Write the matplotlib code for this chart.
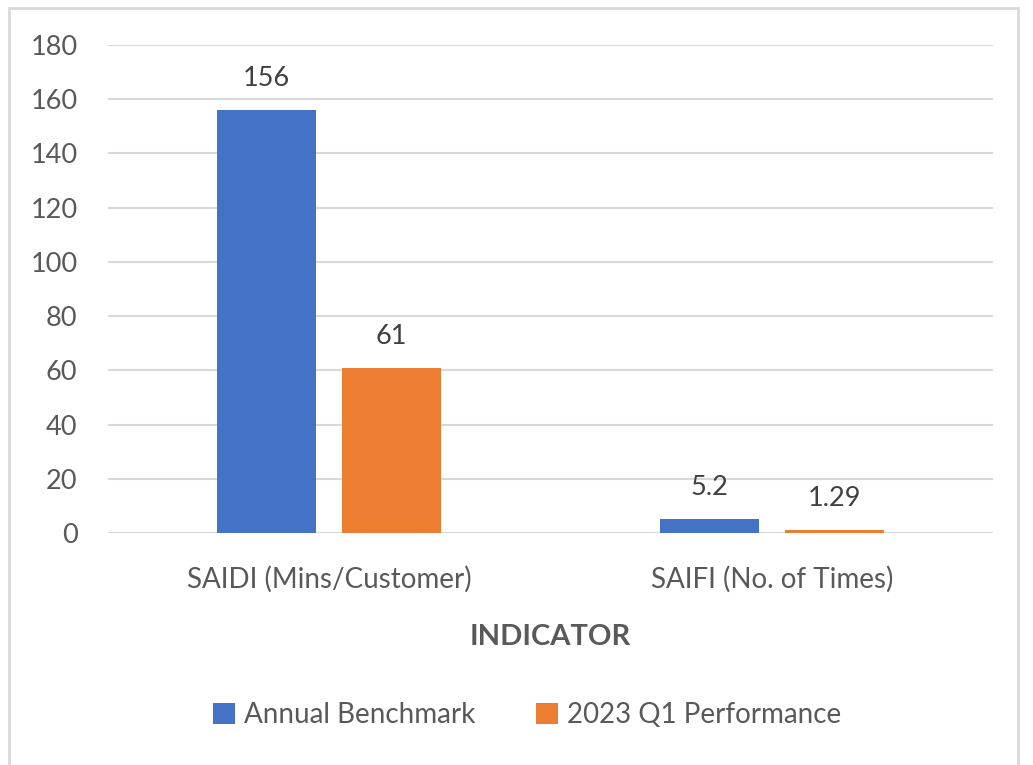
import matplotlib.pyplot as plt
import numpy as np
from matplotlib.patches import Rectangle

categories = ["SAIDI (Mins/Customer)", "SAIFI (No. of Times)"]
benchmark = [156, 5.2]
performance = [61, 1.29]
series_names = ["Annual Benchmark", "2023 Q1 Performance"]
yticks = [0, 20, 40, 60, 80, 100, 120, 140, 160, 180]

plt.rcParams['font.family'] = ['Lato', 'DejaVu Sans']
text_col = "#595959"

fig = plt.figure(figsize=(10.33, 7.65), dpi=100)
# plot area in pixels: x 108..993, y 45..533 (from top)
ax = fig.add_axes([108 / 1033, 1 - 533 / 765, 885 / 1033, 488 / 765])

x = np.arange(len(categories))
w = 0.224
off = 0.141
b1 = ax.bar(x - off, benchmark, w, color="#4472c4", label=series_names[0], zorder=3)
b2 = ax.bar(x + off, performance, w, color="#ed7d31", label=series_names[1], zorder=3)

for bars, vals in ((b1, benchmark), (b2, performance)):
    for rect, v in zip(bars, vals):
        ax.text(rect.get_x() + rect.get_width() / 2, v + 7, f"{v:g}",
                ha="center", va="bottom", fontsize=19.5, color="#404040")

ax.set_xlim(-0.5, 1.5)
ax.set_ylim(0, 180)
ax.set_yticks(yticks)
ax.set_xticks(x)
ax.set_xticklabels(categories)
ax.tick_params(axis="y", length=0, pad=22, labelsize=19.5, labelcolor=text_col)
ax.tick_params(axis="x", length=0, pad=24, labelsize=20, labelcolor=text_col)
ax.grid(axis="y", color="#d9d9d9", linewidth=1.5, zorder=0)
for s in ax.spines.values():
    s.set_visible(False)

ax.set_xlabel("INDICATOR", fontsize=21, fontweight="bold", color=text_col, labelpad=22)

ax.legend(loc="center", bbox_to_anchor=(527 / 1033, 1 - 715 / 765),
          bbox_transform=fig.transFigure, ncol=2, frameon=False, fontsize=20,
          handlelength=0.8, handleheight=0.8, handletextpad=0.3, columnspacing=2.2,
          labelcolor=text_col)

# outer chart border
fig.patches.append(Rectangle((9 / 1033, -0.05), 1009 / 1033, 1.05 - 8 / 765,
                             transform=fig.transFigure, fill=False,
                             edgecolor="#d9d9d9", linewidth=2))

fig.savefig("out.png", dpi=100)
